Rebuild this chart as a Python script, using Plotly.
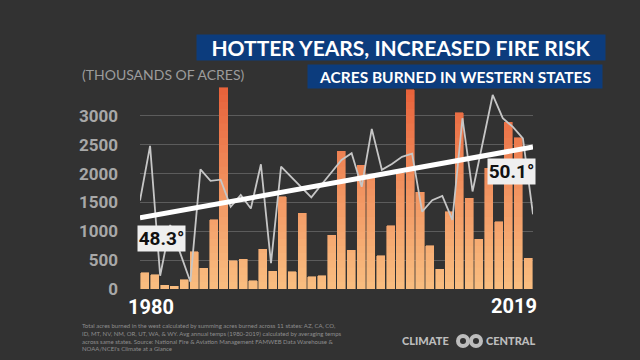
import plotly.graph_objects as go

# ---------------- data ----------------
years = list(range(1980, 2020))
acres_thousands = [283, 243, 64, 52, 161, 647, 364, 1197, 3491, 486,
                   520, 139, 688, 312, 1601, 300, 1312, 213, 231, 936,
                   2390, 676, 2150, 1919, 578, 1098, 2006, 3451, 1676, 746,
                   341, 1341, 3057, 1573, 867, 2093, 1168, 2890, 2624, 532]
avg_temp_f = [48.74, 50.13, 46.83, 48.12, 47.40, 46.68, 49.53, 49.24, 49.27, 48.58,
              48.88, 48.54, 49.66, 47.15, 49.60, 49.34, 49.08, 48.82, 49.14, 49.47,
              49.77, 49.94, 49.09, 50.56, 49.52, 49.67, 49.85, 49.93, 48.46, 48.75,
              48.86, 48.25, 50.83, 48.97, 50.19, 51.42, 50.83, 50.61, 50.32, 48.39]
trend_years = [1980, 2019]
trend_temps = [48.3, 50.1]
y_ticks = [0, 500, 1000, 1500, 2000, 2500, 3000]
first_label, last_label = "1980", "2019"

# ---------------- style ----------------
BG = "#323232"
NUMF = "Roboto"
SANS = "Lato"
TITLEF = "Lato"


def lerp_color(c0, c1, t):
    a = [int(c0[i:i + 2], 16) for i in (1, 3, 5)]
    b = [int(c1[i:i + 2], 16) for i in (1, 3, 5)]
    return "#%02x%02x%02x" % tuple(round(a[i] + (b[i] - a[i]) * t) for i in range(3))


fig = go.Figure()

# vertical gradient bars: stacked slices of each bar's own value
step = 125
top_val = 3500
n_seg = top_val // step
for k in range(n_seg):
    lo = k * step
    seg = [min(v - lo, step) if v > lo else None for v in acres_thousands]
    t = (k + 0.5) / n_seg
    col = lerp_color("#f9bd80", "#e8613a", t ** 1.1)
    fig.add_trace(go.Bar(
        x=years, y=seg, marker=dict(color=col, line=dict(color=col, width=0.6)),
        showlegend=False, hoverinfo="skip", xaxis="x", yaxis="y"))

# temperature line
fig.add_trace(go.Scatter(
    x=years, y=avg_temp_f, mode="lines", line=dict(color="#c6c6c6", width=1.8),
    xaxis="x2", yaxis="y2", showlegend=False, hoverinfo="skip"))
# trend line
fig.add_trace(go.Scatter(
    x=trend_years, y=trend_temps, mode="lines", line=dict(color="#ffffff", width=5),
    xaxis="x2", yaxis="y2", showlegend=False, hoverinfo="skip"))

fig.update_layout(
    width=640, height=360,
    margin=dict(l=140, r=107, t=86, b=71),
    paper_bgcolor=BG, plot_bgcolor=BG,
    barmode="stack", bargap=0.18,
    xaxis=dict(range=[1979.5, 2019.5], showticklabels=False, showgrid=False,
               zeroline=False, showline=False, ticks=""),
    xaxis2=dict(range=[1980, 2019], overlaying="x", visible=False),
    yaxis=dict(range=[0, 3520], tickvals=y_ticks, showgrid=True,
               gridcolor="#5c5c5c", gridwidth=1, zeroline=False, showline=False,
               ticks="", ticklabelstandoff=21,
               tickfont=dict(family=NUMF, size=17, color="#a8a8a8", weight=700)),
    yaxis2=dict(range=[46.495, 51.648], overlaying="y", side="right", visible=False),
    font=dict(family=SANS),
)

ann = []
# title boxes
ann.append(dict(xref="paper", yref="paper", x=0.6641, y=1.1897, xanchor="center", yanchor="middle",
                text="HOTTER YEARS, INCREASED FIRE RISK", showarrow=False,
                width=408, height=25, bgcolor="#0c3c7d", borderpad=0,
                font=dict(family=TITLEF, size=21, color="white", weight=700)))
ann.append(dict(xref="paper", yref="paper", x=0.8015, y=1.0468, xanchor="center", yanchor="middle",
                text="ACRES BURNED IN WESTERN STATES", showarrow=False,
                width=294, height=23, bgcolor="#0c3c7d", borderpad=0,
                font=dict(family=TITLEF, size=15.5, color="white", weight=700)))
ann.append(dict(xref="paper", yref="paper", x=-0.1527, y=1.0542, xanchor="left", yanchor="middle",
                text="(THOUSANDS OF ACRES)", showarrow=False,
                font=dict(family=SANS, size=14, color="#9c9c9c")))
# year labels
ann.append(dict(xref="paper", yref="paper", x=0.028, y=-0.0887, xanchor="center", yanchor="middle",
                text=first_label, showarrow=False,
                font=dict(family=NUMF, size=20, color="white", weight=700)))
ann.append(dict(xref="paper", yref="paper", x=0.9517, y=-0.0837, xanchor="center", yanchor="middle",
                text=last_label, showarrow=False,
                font=dict(family=NUMF, size=20, color="white", weight=700)))
# trend labels
ann.append(dict(xref="x2", yref="y2", x=trend_years[0], y=trend_temps[0], xshift=21, yshift=-21,
                xanchor="center", yanchor="middle", text=f"{trend_temps[0]}°", showarrow=False,
                width=47, height=25, bgcolor="#efefef", borderpad=0,
                font=dict(family=NUMF, size=19, color="#111111", weight=700)))
ann.append(dict(xref="x2", yref="y2", x=trend_years[1], y=trend_temps[1], xshift=-22, yshift=-25,
                xanchor="center", yanchor="middle", text=f"{trend_temps[1]}°", showarrow=False,
                width=47, height=25, bgcolor="#efefef", borderpad=0,
                font=dict(family=NUMF, size=19, color="#111111", weight=700)))
# footer
footer = ("Total acres burned in the west calculated by summing acres burned across 11 states: AZ, CA, CO,<br>"
          "ID, MT, NV, NM, OR, UT, WA, &amp; WY. Avg annual temps (1980-2019) calculated by averaging temps<br>"
          "across same states. Source: National Fire &amp; Aviation Management FAMWEB Data Warehouse &amp;<br>"
          "NOAA/NCEI's Climate at a Glance")
ann.append(dict(xref="paper", yref="paper", x=-0.1527, y=-0.2365, xanchor="left", yanchor="middle",
                text=footer, showarrow=False, align="left",
                font=dict(family=SANS, size=6, color="#8e8e8e")))
# logo text
ann.append(dict(xref="paper", yref="paper", x=0.7913, y=-0.2513, xanchor="right", yanchor="middle",
                text="CLIMATE", showarrow=False,
                font=dict(family=SANS, size=11, color="#bdbdbd", weight=900)))
ann.append(dict(xref="paper", yref="paper", x=0.876, y=-0.2513, xanchor="left", yanchor="middle",
                text="CENTRAL", showarrow=False,
                font=dict(family=SANS, size=11, color="#bdbdbd", weight=900)))
fig.update_layout(annotations=ann)

# logo circles
shapes = []
for cx in (463, 476):
    x0 = (cx - 7 - 140) / 393
    x1 = (cx + 7 - 140) / 393
    shapes.append(dict(type="circle", xref="paper", yref="paper",
                       x0=x0, x1=x1, y0=(289 - 348) / 203, y1=(289 - 334) / 203,
                       fillcolor="#bdbdbd", line=dict(width=0)))
for cx in (463, 476):
    x0 = (cx - 3 - 140) / 393
    x1 = (cx + 3 - 140) / 393
    shapes.append(dict(type="circle", xref="paper", yref="paper",
                       x0=x0, x1=x1, y0=(289 - 344) / 203, y1=(289 - 338) / 203,
                       fillcolor=BG, line=dict(width=0)))
fig.update_layout(shapes=shapes)

fig.write_html(
    "out.html",
    config={"displayModeBar": False},
    post_script="document.body.style.margin='0';document.body.style.background='%s';" % BG,
)
